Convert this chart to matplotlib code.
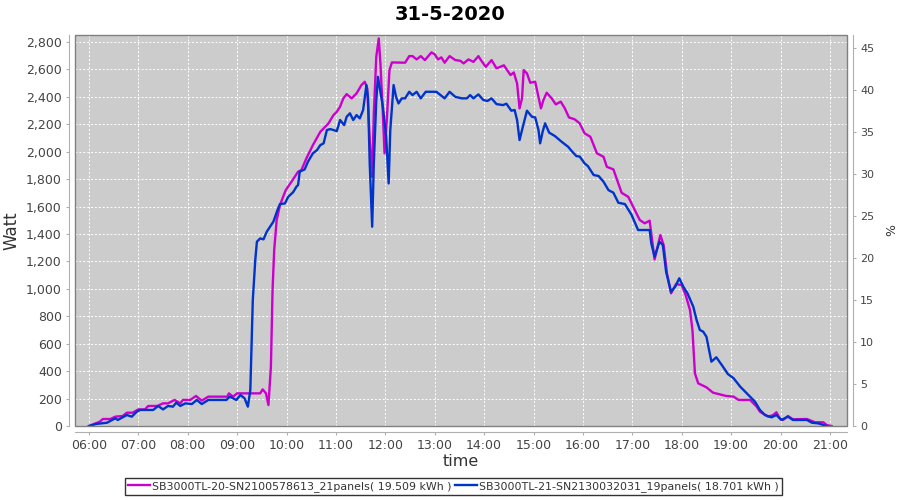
import matplotlib
matplotlib.use('Agg')
import matplotlib.pyplot as plt
import numpy as np
from matplotlib.patches import Rectangle

# inverter 1 (magenta)
t1 = ['06:00','06:13','06:17','06:26','06:32','06:41','06:46','06:53','07:00','07:08',
      '07:12','07:23','07:30','07:36','07:44','07:51','07:54','08:03','08:10','08:17',
      '08:25','08:48','08:50','08:55','09:00','09:28','09:31','09:35','09:38','09:41',
      '09:43','09:45','09:48','09:52','09:59','10:06','10:14','10:18','10:24','10:32',
      '10:41','10:51','10:57','11:01','11:05','11:09','11:13','11:19','11:25','11:31',
      '11:35','11:38','11:41','11:44','11:46','11:49','11:52','11:54','11:57','11:59',
      '12:02','12:05','12:08','12:20','12:24','12:29','12:33','12:38','12:43','12:48',
      '12:56','13:00','13:04','13:08','13:12','13:18','13:25','13:31','13:35','13:41',
      '13:47','13:53','13:57','14:02','14:09','14:15','14:24','14:32','14:36','14:40',
      '14:43','14:46','14:48','14:52','14:56','15:02','15:06','15:09','15:12','15:16',
      '15:22','15:27','15:33','15:38','15:43','15:50','15:56','16:02','16:09','16:17',
      '16:25','16:29','16:37','16:43','16:47','16:55','17:01','17:09','17:15','17:21',
      '17:23','17:27','17:34','17:38','17:42','17:47','17:53','18:00','18:05','18:10',
      '18:13','18:16','18:20','18:30','18:38','18:46','18:54','19:03','19:09','19:23',
      '19:31','19:35','19:45','19:51','19:55','19:59','20:03','20:09','20:15','20:32',
      '20:42','20:52','20:56','21:02']
w1 = [0,31,51,51,68,73,97,97,121,121,
      146,146,165,165,190,165,190,190,219,185,
      214,214,238,214,238,238,267,238,153,432,
      991,1283,1502,1611,1720,1781,1854,1866,1950,2048,
      2145,2207,2267,2291,2328,2389,2420,2389,2425,2486,
      2510,2462,2085,1817,2280,2693,2826,2644,2280,1988,
      2255,2595,2651,2649,2649,2697,2697,2673,2697,2668,
      2724,2710,2673,2688,2649,2697,2668,2663,2644,2673,
      2655,2697,2660,2619,2668,2608,2630,2559,2578,2498,
      2316,2389,2595,2571,2503,2510,2400,2316,2377,2430,
      2389,2345,2365,2316,2250,2236,2207,2134,2109,1988,
      1963,1890,1871,1769,1700,1671,1599,1502,1478,1497,
      1405,1215,1392,1320,1113,967,1035,1028,950,846,
      700,384,311,282,243,231,219,214,190,190,
      141,104,68,80,100,56,44,73,49,51,
      27,27,7,0]

# inverter 2 (blue)
t2 = ['06:00','06:09','06:22','06:32','06:35','06:46','06:52','06:58','07:02','07:18',
      '07:24','07:30','07:36','07:42','07:46','07:51','07:57','08:05','08:11','08:17',
      '08:25','08:47','08:51','08:59','09:04','09:09','09:13','09:16','09:19','09:22',
      '09:24','09:28','09:32','09:36','09:40','09:44','09:49','09:52','09:58','10:02',
      '10:08','10:12','10:14','10:16','10:22','10:26','10:32','10:37','10:41','10:45',
      '10:49','10:53','10:57','11:01','11:05','11:10','11:13','11:17','11:21','11:25',
      '11:29','11:33','11:37','11:39','11:41','11:44','11:46','11:49','11:51','11:54',
      '11:57','12:01','12:04','12:06','12:10','12:13','12:16','12:20','12:24','12:29',
      '12:33','12:38','12:43','12:49','13:02','13:12','13:18','13:25','13:33','13:39',
      '13:43','13:47','13:53','13:59','14:04','14:09','14:15','14:23','14:27','14:33',
      '14:37','14:40','14:43','14:47','14:52','14:58','15:02','15:06','15:08','15:11',
      '15:14','15:19','15:26','15:34','15:42','15:46','15:52','15:56','16:02','16:06',
      '16:13','16:19','16:25','16:31','16:37','16:43','16:51','16:59','17:07','17:21',
      '17:23','17:27','17:33','17:37','17:41','17:47','17:52','17:57','18:02','18:07',
      '18:14','18:18','18:22','18:26','18:30','18:36','18:42','18:50','18:56','19:03',
      '19:11','19:21','19:29','19:35','19:41','19:49','19:55','20:01','20:09','20:15',
      '20:32','20:38','20:46','20:52','20:56']
w2 = [0,15,24,56,44,80,68,104,117,117,
      146,121,146,141,170,146,165,160,190,160,
      190,190,214,190,226,202,141,262,918,1210,
      1344,1368,1361,1417,1453,1490,1575,1618,1623,1671,
      1705,1745,1757,1854,1871,1927,1988,2012,2048,2061,
      2158,2165,2158,2150,2231,2194,2255,2280,2231,2267,
      2243,2304,2486,2389,1915,1453,1915,2377,2546,2437,
      2328,2109,1769,2158,2486,2400,2352,2389,2389,2437,
      2413,2437,2389,2437,2437,2389,2437,2400,2389,2389,
      2413,2389,2418,2377,2370,2389,2347,2340,2350,2299,
      2304,2231,2085,2182,2299,2255,2250,2158,2061,2145,
      2207,2139,2114,2073,2036,2007,1968,1965,1915,1895,
      1830,1823,1781,1720,1701,1628,1618,1540,1429,1429,
      1332,1234,1344,1320,1125,979,1015,1077,1015,967,
      870,773,700,688,651,469,501,433,379,348,
      287,226,177,117,80,63,80,44,68,44,
      44,24,19,7,0]

label1 = 'SB3000TL-20-SN2100578613_21panels( 19.509 kWh )'
label2 = 'SB3000TL-21-SN2130032031_19panels( 18.701 kWh )'
hours = ['%02d:00' % h for h in range(6, 22)]

def to_h(lst):
    return np.array([int(s[:2]) + int(s[3:]) / 60 for s in lst])

x1 = to_h(t1)
x2 = to_h(t2)

fig = plt.figure(figsize=(9, 5), dpi=100)
ax = fig.add_axes([0.0833, 0.148, 0.8578, 0.782])
ax.set_facecolor('#cccccc')

ax.plot(x1, w1, color='#cc00cc', lw=1.7, label=label1, zorder=3)
ax.plot(x2, w2, color='#0033cc', lw=1.7, label=label2, zorder=3)

ax.set_xlim(5.717, 21.345)
ax.set_ylim(0, 2851)
ax.set_xticks(range(6, 22))
ax.set_xticklabels(hours)
ax.set_yticks(range(0, 2801, 200))
ax.set_yticklabels(['{:,}'.format(v) for v in range(0, 2801, 200)])
ax.grid(True, color='white', linestyle=(0, (2, 2)), linewidth=0.7)
ax.set_axisbelow(True)

for s in ['top', 'right']:
    ax.spines[s].set_visible(False)
for s in ['left', 'bottom']:
    ax.spines[s].set_position(('outward', 4))
    ax.spines[s].set_color('#b0b0b0')
ax.tick_params(colors='#b0b0b0', labelcolor='#444444', labelsize=9, length=2)

# plot outline
ax.add_patch(Rectangle((0, 0), 1, 1, transform=ax.transAxes, fill=False,
                       edgecolor='#808080', lw=1, zorder=5, clip_on=False))

ax.set_ylabel('Watt', fontsize=12, color='#333333')
ax.set_xlabel('time', fontsize=11.5, color='#333333', labelpad=1)

ax2 = ax.twinx()
ax2.set_ylim(0, 46.6)
ax2.set_yticks(range(0, 46, 5))
for s in ['top', 'left', 'bottom']:
    ax2.spines[s].set_visible(False)
ax2.spines['right'].set_position(('outward', 4))
ax2.spines['right'].set_color('#b0b0b0')
ax2.tick_params(colors='#b0b0b0', labelcolor='#444444', labelsize=8, length=2)
ax2.set_ylabel('%', fontsize=9, color='#333333', labelpad=8)

fig.suptitle('31-5-2020', fontsize=14, fontweight='bold', y=0.99)

leg = ax.legend(loc='upper center', bbox_to_anchor=(0.4905, -0.133), ncol=2,
                fontsize=7.9, frameon=True, fancybox=False, handlelength=2.0,
                handletextpad=0.2, columnspacing=0.3, borderpad=0.3,
                borderaxespad=0)
leg.get_frame().set_edgecolor('black')
leg.get_frame().set_linewidth(1)
for text in leg.get_texts():
    text.set_color('#333333')

fig.savefig('out.png', dpi=100)
